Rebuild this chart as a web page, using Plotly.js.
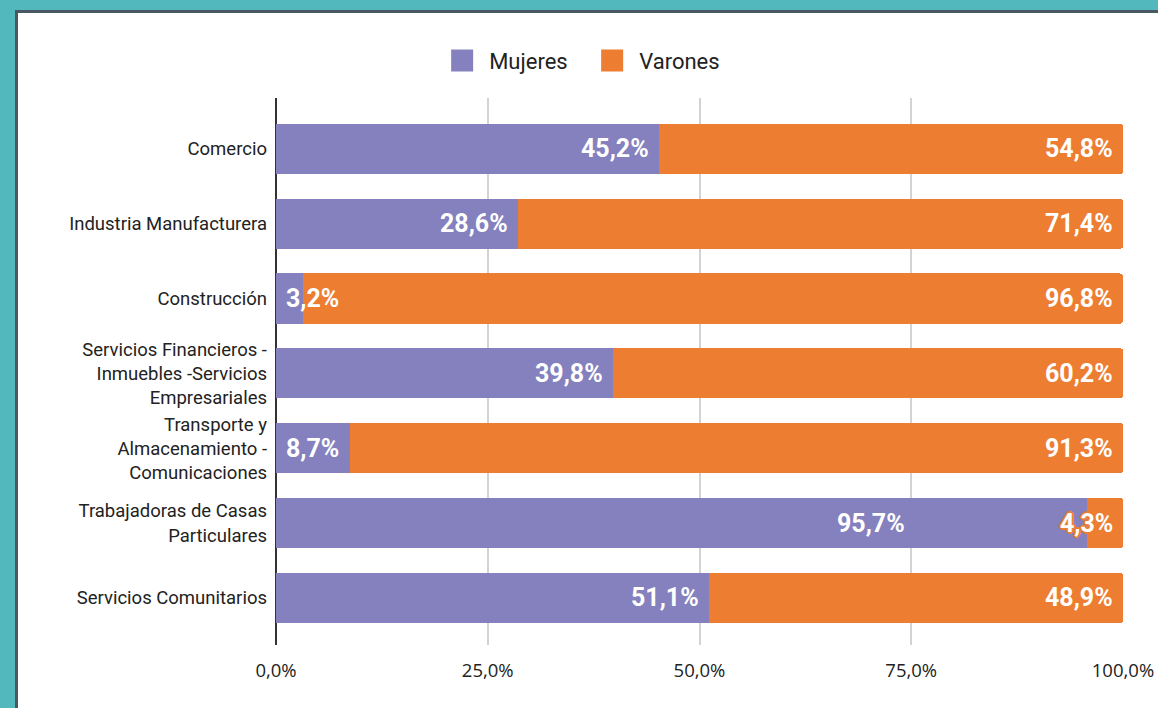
<!DOCTYPE html>
<html>
<head>
<meta charset="utf-8">
<script src="https://cdn.plot.ly/plotly-3.0.1.min.js"></script>
<style>
  html, body { margin: 0; padding: 0; width: 1158px; height: 708px; overflow: hidden; background: #52b8bd; }
  #panel { position: absolute; left: 15px; top: 10px; width: 1143px; height: 698px; background: #ffffff;
           border-top: 3px solid #4a5861; border-left: 3px solid #4a5861; box-sizing: border-box; }
  #chart { position: absolute; left: 0; top: 0; width: 1158px; height: 708px; }
</style>
</head>
<body>
<div id="panel"></div>
<div id="chart"></div>
<script>
// ---- data ----
const categories = [
  "Comercio",
  "Industria Manufacturera",
  "Construcción",
  "Servicios Financieros -<br>Inmuebles -Servicios<br>Empresariales",
  "Transporte y<br>Almacenamiento -<br>Comunicaciones",
  "Trabajadoras de Casas<br>Particulares",
  "Servicios Comunitarios"
];
const mujeres = [45.2, 28.6, 3.2, 39.8, 8.7, 95.7, 51.1];
const varones = [54.8, 71.4, 96.8, 60.2, 91.3, 4.3, 48.9];
const seriesNames = ["Mujeres", "Varones"];
const tickValues = [0, 25, 50, 75, 100];
const tickLabels = ["0,0%", "25,0%", "50,0%", "75,0%", "100,0%"];

// ---- style ----
const purple = "#8481be";
const orange = "#ed7d31";
const fmt = v => v.toFixed(1).replace(".", ",") + "%";
const labelFont = { family: "Roboto, sans-serif", size: 25, color: "#ffffff", weight: "bold" };
const outline = ["2px 0", "-2px 0", "0 2px", "0 -2px", "1px 1px", "-1px -1px", "1px -1px", "-1px 1px"]
  .map(o => o + " 0 " + orange).join(", ");

const traces = [
  { type: "bar", orientation: "h", name: seriesNames[0], y: categories, x: mujeres,
    marker: { color: purple }, hoverinfo: "skip" },
  { type: "bar", orientation: "h", name: seriesNames[1], y: categories, x: varones,
    marker: { color: orange }, hoverinfo: "skip" }
];

const annotations = [];
categories.forEach((c, i) => {
  const m = mujeres[i];
  const small = m < 15;
  // when the next segment is too narrow for its own label, move this label out of its way
  const crowded = varones[i] < 10;
  annotations.push({
    x: small ? 0 : m, y: c, xref: "x", yref: "y",
    text: fmt(m), showarrow: false,
    xanchor: small ? "left" : "right", xshift: small ? 8 : (crowded ? -180 : -8),
    font: labelFont
  });
  annotations.push({
    x: mujeres[i] + varones[i], y: c, xref: "x", yref: "y",
    text: fmt(varones[i]), showarrow: false,
    xanchor: "right", xshift: -8,
    font: Object.assign({}, labelFont, { shadow: outline })
  });
});

const layout = {
  width: 1158, height: 708,
  margin: { l: 276, r: 35, t: 98, b: 63, pad: 0, autoexpand: false },
  paper_bgcolor: "rgba(0,0,0,0)",
  plot_bgcolor: "rgba(0,0,0,0)",
  separators: ",.",
  barmode: "stack",
  bargap: 0.33,
  barcornerradius: 3,
  font: { family: "Roboto, sans-serif", color: "#222222" },
  showlegend: true,
  legend: {
    orientation: "h", x: 0.365, xanchor: "center", itemwidth: 44,
    entrywidth: 91, entrywidthmode: "pixels",
    y: 1.068, yanchor: "middle", traceorder: "normal",
    font: { size: 22, color: "#222222" }
  },
  xaxis: {
    range: [0, 100], tickvals: tickValues, ticktext: tickLabels, automargin: false,
    showgrid: true, gridcolor: "#d3d3d3", gridwidth: 2,
    zeroline: true, zerolinecolor: "#333333", zerolinewidth: 2,
    showline: false, ticks: "", tickfont: { family: "'Open Sans', sans-serif", size: 18.5, color: "#222222" },
    ticklabelstandoff: 12, fixedrange: true
  },
  yaxis: {
    type: "category", range: [6.63, -0.68], automargin: false,
    categoryorder: "array", categoryarray: categories,
    showgrid: false, zeroline: false, showline: false, ticks: "",
    tickfont: { size: 18.5, color: "#222222" },
    ticklabelstandoff: 8, fixedrange: true
  },
  annotations: annotations
};

Plotly.newPlot("chart", traces, layout, { displayModeBar: false, staticPlot: true }).then(gd => {
  // enlarge the legend colour squares (keep Plotly's own placement transform)
  gd.querySelectorAll(".legendpoints path").forEach(p => p.setAttribute("d", "M11,11H-11V-11H11Z"));
});
</script>
</body>
</html>
